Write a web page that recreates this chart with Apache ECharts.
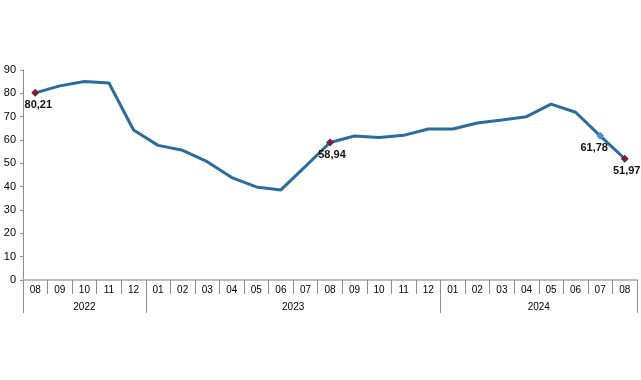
<!DOCTYPE html>
<html>
<head>
<meta charset="utf-8">
<script src="https://cdn.jsdelivr.net/npm/echarts@6/dist/echarts.min.js"></script>
<style>html,body{margin:0;padding:0;background:#fff;}#c{width:641px;height:380px;}</style>
</head>
<body>
<div id="c"></div>
<script>
var months = ['08','09','10','11','12','01','02','03','04','05','06','07','08','09','10','11','12','01','02','03','04','05','06','07','08'];
var values = [80.21,83.2,85.1,84.4,64.3,57.7,55.6,50.7,43.9,39.9,38.6,48.7,58.94,61.7,61.1,62.0,64.7,64.7,67.3,68.6,70.0,75.4,71.9,61.78,51.97];
var years = ['2022','2023','2024'];
var yearCenters = [2.5, 11, 21];
var yearBounds = [0, 5, 17, 25];
var highlightRed = [0, 12, 24];
var highlightBlue = [23];
var yTicks = [0,10,20,30,40,50,60,70,80,90];

var font = 'Liberation Sans, Arial, sans-serif';
var data = values.map(function(v, i){
  var item = {value: v};
  if (highlightRed.indexOf(i) >= 0 || highlightBlue.indexOf(i) >= 0) {
    var blue = highlightBlue.indexOf(i) >= 0;
    item.symbol = 'diamond';
    item.symbolSize = 8;
    item.itemStyle = {color: blue ? '#4f8fc9' : '#7a1c3a'};
    item.label = {show: true, position: 'bottom', distance: 3,
      offset: blue ? [-6, 0] : (i === 0 ? [3, 0] : [2, 0]),
      formatter: function(p){ return p.value.toFixed(2).replace('.', ','); },
      fontFamily: font, fontSize: 11, fontWeight: 'bold', color: '#111'};
  } else {
    item.symbol = 'none';
  }
  return item;
});

var chart = echarts.init(document.getElementById('c'));
chart.setOption({
  animation: false,
  backgroundColor: '#fff',
  grid: {left: 23, right: 4, top: 70, bottom: 100, containLabel: false},
  xAxis: [{
    type: 'category', data: months, boundaryGap: true, position: 'bottom',
    axisLine: {show: true, lineStyle: {color: '#bdbdbd', width: 2}},
    axisTick: {show: true, interval: 0, length: 14, lineStyle: {color: '#8c8c8c', width: 1}},
    axisLabel: {interval: 0, margin: 5, fontFamily: font, fontSize: 10, color: '#000'},
    splitLine: {show: false}
  }, {
    type: 'value', min: 0, max: 25, position: 'bottom',
    axisLine: {show: false},
    axisTick: {show: true, customValues: yearBounds, length: 33, lineStyle: {color: '#8c8c8c', width: 1}},
    axisLabel: {show: true, customValues: yearCenters, margin: 22, fontFamily: font, fontSize: 10, color: '#000',
      formatter: function(v){ var k = yearCenters.indexOf(v); return k >= 0 ? years[k] : ''; }},
    splitLine: {show: false}
  }],
  yAxis: {
    type: 'value', min: 0, max: 90, interval: 10,
    axisLine: {show: true, lineStyle: {color: '#8c8c8c', width: 1}},
    axisTick: {show: true, length: 3, lineStyle: {color: '#8c8c8c'}},
    axisLabel: {margin: 7, fontFamily: font, fontSize: 11, color: '#000',
      formatter: function(v){ return yTicks.indexOf(v) >= 0 ? String(v) : ''; }},
    splitLine: {show: false}
  },
  series: [{
    type: 'line', xAxisIndex: 0, data: data, showSymbol: true, smooth: false,
    lineStyle: {color: '#2b6c9c', width: 3},
    itemStyle: {color: '#2b6c9c'},
    z: 3
  }]
});
</script>
</body>
</html>
